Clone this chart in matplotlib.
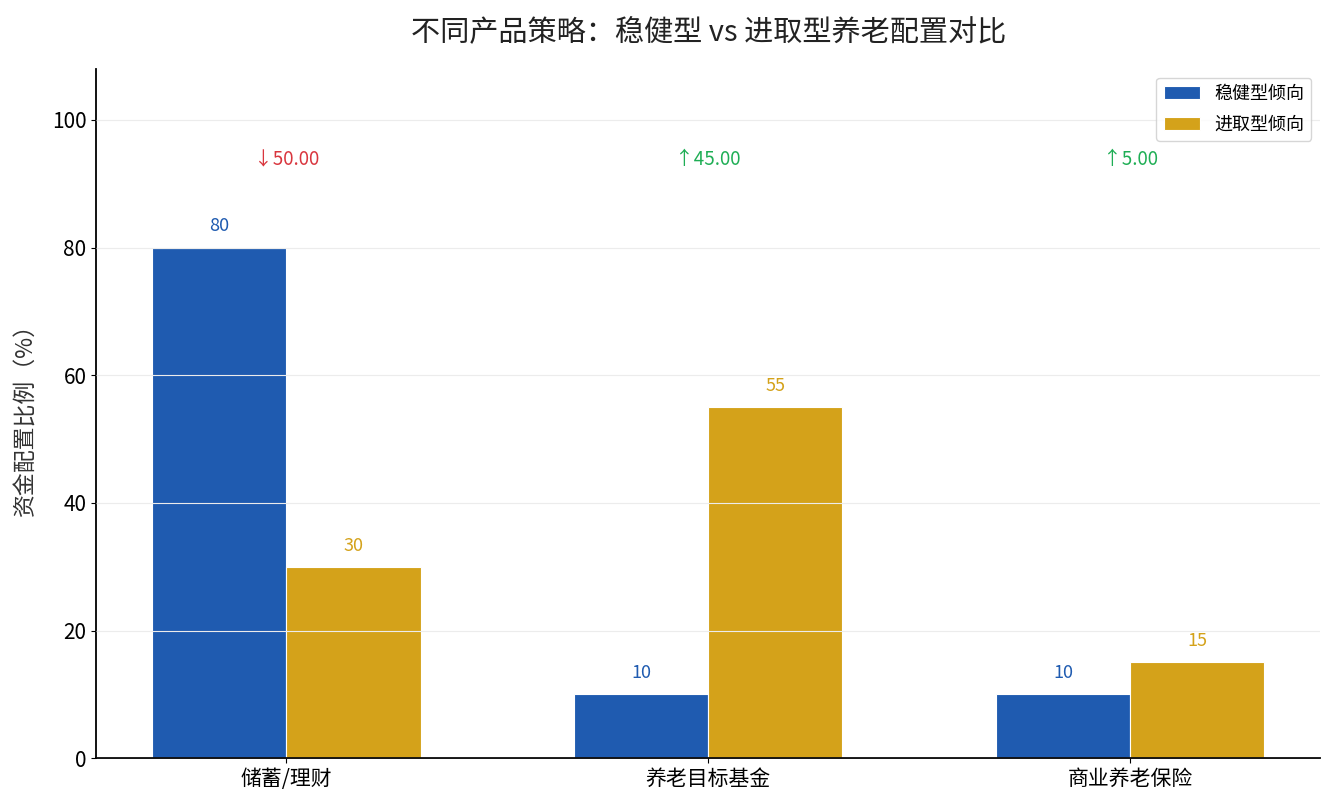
import numpy as np
import matplotlib
matplotlib.use('Agg')
from matplotlib import pyplot as plt

plt.rcParams['font.family'] = ['Noto Sans CJK SC', 'DejaVu Sans']

# donnees
categories = ['储蓄/理财', '养老目标基金', '商业养老保险']
series_names = ['稳健型倾向', '进取型倾向']
steady = [80, 10, 10]
aggressive = [30, 55, 15]
diffs = [-50.00, 45.00, 5.00]

blue = '#1f5bb0'
gold = '#d4a21a'
red = '#d9363e'
green = '#1fae55'

fig, ax = plt.subplots(figsize=(13.35, 8.1), dpi=100)
fig.subplots_adjust(left=0.072, right=0.989, top=0.915, bottom=0.064)

x = np.arange(len(categories))
w = 0.318
b1 = ax.bar(x - w / 2, steady, w, color=blue, edgecolor='white', linewidth=0.8, label=series_names[0])
b2 = ax.bar(x + w / 2, aggressive, w, color=gold, edgecolor='white', linewidth=0.8, label=series_names[1])

# valeurs au-dessus des barres
for rect, v in zip(b1, steady):
    ax.text(rect.get_x() + rect.get_width() / 2, v + 1.9, f'{v}', ha='center', va='bottom',
            color=blue, fontsize=13)
for rect, v in zip(b2, aggressive):
    ax.text(rect.get_x() + rect.get_width() / 2, v + 1.9, f'{v}', ha='center', va='bottom',
            color=gold, fontsize=13)

# ecarts
for i, d in enumerate(diffs):
    arrow = '↑' if d > 0 else '↓'
    col = green if d > 0 else red
    ax.text(x[i], 93.8, f'{arrow}{abs(d):.2f}', ha='center', va='center', color=col, fontsize=13.5)

ax.set_xlim(-0.451, 2.451)
ax.set_ylim(0, 108)
ax.set_yticks([0, 20, 40, 60, 80, 100])
ax.set_xticks(x)
ax.set_xticklabels(categories, fontsize=15)
ax.tick_params(axis='y', labelsize=15)
ax.set_ylabel('资金配置比例（%）', fontsize=16.5, color='#333333', labelpad=10)
ax.set_title('不同产品策略：稳健型 vs 进取型养老配置对比', fontsize=21, pad=20, color='#222222')

ax.grid(axis='y', color='#ececec', linewidth=0.8)
ax.set_axisbelow(False)
ax.spines['top'].set_visible(False)
ax.spines['right'].set_visible(False)
ax.spines['left'].set_linewidth(1.3)
ax.spines['bottom'].set_linewidth(1.3)

ax.legend(loc='upper right', fontsize=13, labelspacing=0.7, frameon=True, fancybox=True,
          edgecolor='#cccccc')

plt.savefig('out.png', dpi=100)
